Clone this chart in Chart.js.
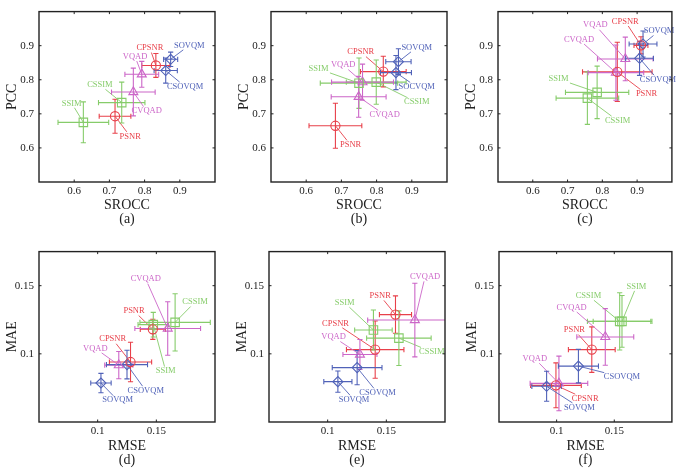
<!DOCTYPE html>
<html>
<head>
<meta charset="utf-8">
<script src="https://cdn.jsdelivr.net/npm/chart.js@4.4.0/dist/chart.umd.min.js"></script>
<style>
html, body { margin: 0; padding: 0; background: #fff; }
#wrap { position: relative; width: 679px; height: 468px; overflow: hidden; }
#wrap canvas { position: absolute; display: block; }
</style>
</head>
<body>
<div id="wrap"></div>
<script>
// metric order used by every panel
const metrics = ['PSNR', 'CPSNR', 'SSIM', 'CSSIM', 'VQAD', 'CVQAD', 'SOVQM', 'CSOVQM'];
// panel (b) prints the last one as "SOCVQM"
const metricsB = ['PSNR', 'CPSNR', 'SSIM', 'CSSIM', 'VQAD', 'CVQAD', 'SOVQM', 'SOCVQM'];

const corrTicks = [0.6, 0.7, 0.8, 0.9];
const corrTickLabels = ['0.6', '0.7', '0.8', '0.9'];
const errTicks = [0.1, 0.15];
const errTickLabels = ['0.1', '0.15'];

// (a) SROCC / PCC
const a_x  = [0.716, 0.832, 0.626, 0.735, 0.792, 0.768, 0.874, 0.860];
const a_y  = [0.693, 0.842, 0.675, 0.733, 0.816, 0.764, 0.860, 0.827];
const a_xe = [0.045, 0.040, 0.072, 0.066, 0.048, 0.062, 0.020, 0.033];
const a_ye = [0.050, 0.035, 0.060, 0.060, 0.038, 0.070, 0.021, 0.037];

// (b) SROCC / PCC
const b_x  = [0.683, 0.819, 0.750, 0.799, 0.760, 0.749, 0.862, 0.855];
const b_y  = [0.665, 0.824, 0.790, 0.793, 0.793, 0.750, 0.853, 0.821];
const b_xe = [0.075, 0.065, 0.110, 0.085, 0.088, 0.078, 0.036, 0.044];
const b_ye = [0.066, 0.045, 0.074, 0.065, 0.053, 0.060, 0.038, 0.050];

// (c) SROCC / PCC
const c_x  = [0.843, 0.911, 0.785, 0.757, 0.866, 0.839, 0.917, 0.907];
const c_y  = [0.823, 0.901, 0.763, 0.746, 0.861, 0.821, 0.905, 0.863];
const c_xe = [0.100, 0.020, 0.091, 0.090, 0.080, 0.080, 0.040, 0.040];
const c_ye = [0.087, 0.025, 0.077, 0.077, 0.064, 0.081, 0.038, 0.050];

// (d) RMSE / MAE
const d_x  = [0.147, 0.128, 0.1474, 0.166, 0.118, 0.1597, 0.1028, 0.125];
const d_y  = [0.118, 0.094, 0.1214, 0.1231, 0.0917, 0.1186, 0.0786, 0.0921];
const d_xe = [0.0107, 0.018, 0.013, 0.030, 0.012, 0.028, 0.0087, 0.0175];
const d_ye = [0.0074, 0.0145, 0.009, 0.021, 0.010, 0.0196, 0.0071, 0.0105];

// (e) RMSE / MAE
const e_x  = [0.1578, 0.1405, 0.139, 0.1607, 0.1275, 0.1743, 0.1087, 0.1251];
const e_y  = [0.1288, 0.1031, 0.1175, 0.1115, 0.0995, 0.1248, 0.0796, 0.0899];
const e_xe = [0.0137, 0.0245, 0.016, 0.0275, 0.0145, 0.0402, 0.012, 0.0212];
const e_ye = [0.0137, 0.021, 0.0147, 0.020, 0.011, 0.027, 0.0078, 0.0126];

// (f) RMSE / MAE
const f_x  = [0.1305, 0.0994, 0.1567, 0.1547, 0.102, 0.1422, 0.0913, 0.1189];
const f_y  = [0.1031, 0.0769, 0.1238, 0.1238, 0.0783, 0.1124, 0.0762, 0.0910];
const f_xe = [0.0203, 0.022, 0.025, 0.028, 0.025, 0.0247, 0.0128, 0.0174];
const f_ye = [0.0167, 0.0165, 0.019, 0.021, 0.020, 0.0208, 0.011, 0.0123];

// where each name label sits (axis units), kept apart from the values
const a_labelPos = [[0.759, 0.634], [0.815, 0.893], [0.593, 0.731], [0.673, 0.785], [0.773, 0.868], [0.806, 0.708], [0.927, 0.901], [0.915, 0.780]];
const b_labelPos = [[0.726, 0.609], [0.755, 0.881], [0.635, 0.832], [0.914, 0.734], [0.705, 0.843], [0.823, 0.697], [0.914, 0.895], [0.914, 0.779]];
const c_labelPos = [[0.927, 0.758], [0.866, 0.971], [0.674, 0.802], [0.844, 0.680], [0.780, 0.960], [0.733, 0.918], [0.963, 0.943], [0.960, 0.800]];
const d_labelPos = [[0.131, 0.1314], [0.1128, 0.1107], [0.158, 0.0874], [0.183, 0.138], [0.098, 0.104], [0.141, 0.1548], [0.117, 0.066], [0.141, 0.073]];
const e_labelPos = [[0.1448, 0.1425], [0.1067, 0.1224], [0.1145, 0.1375], [0.1887, 0.1014], [0.105, 0.1123], [0.183, 0.1565], [0.1225, 0.0663], [0.1425, 0.0714]];
const f_labelPos = [[0.1154, 0.1174], [0.1247, 0.0671], [0.1692, 0.1495], [0.1276, 0.1426], [0.0811, 0.0964], [0.113, 0.134], [0.1198, 0.0607], [0.1567, 0.0829]];

// styling
const RED = '#e8404a', GREEN = '#86cc6a', MAGENTA = '#cc66c8', BLUE = '#5062b8';
const colors = [RED, RED, GREEN, GREEN, MAGENTA, MAGENTA, BLUE, BLUE];
const shapes = ['circle', 'circle', 'rect', 'rect', 'triangle', 'triangle', 'rectRot', 'rectRot'];
const radii = [4.6, 4.6, 6, 6, 5.2, 5.2, 5, 5];
const SERIF = '"Liberation Serif", "DejaVu Serif", serif';
const INK = '#222';

const errorBarPlugin = {
  id: 'errbars',
  beforeDatasetsDraw(chart) {
    const { ctx, chartArea: a, scales: { x, y } } = chart;
    ctx.save();
    ctx.beginPath();
    ctx.rect(a.left, a.top, a.width, a.height);
    ctx.clip();
    const cap = 2.6;
    ctx.font = '8.5px ' + SERIF;
    chart.data.datasets.forEach(ds => {
      const p = ds.data[0];
      const px = x.getPixelForValue(p.x), py = y.getPixelForValue(p.y);
      const x0 = x.getPixelForValue(p.x - ds.xErr), x1 = x.getPixelForValue(p.x + ds.xErr);
      const y0 = y.getPixelForValue(p.y - ds.yErr), y1 = y.getPixelForValue(p.y + ds.yErr);
      ctx.strokeStyle = ds.borderColor;
      ctx.lineWidth = 1.1;
      ctx.beginPath();
      ctx.moveTo(x0, py); ctx.lineTo(x1, py);
      ctx.moveTo(x0, py - cap); ctx.lineTo(x0, py + cap);
      ctx.moveTo(x1, py - cap); ctx.lineTo(x1, py + cap);
      ctx.moveTo(px, y0); ctx.lineTo(px, y1);
      ctx.moveTo(px - cap, y0); ctx.lineTo(px + cap, y0);
      ctx.moveTo(px - cap, y1); ctx.lineTo(px + cap, y1);
      ctx.stroke();

      // leader line from the name to its point
      const lx = x.getPixelForValue(ds.labelAt[0]), ly = y.getPixelForValue(ds.labelAt[1]);
      const hw = ctx.measureText(ds.label).width / 2 + 1.5, hh = 4.5;
      const dx = px - lx, dy = py - ly;
      const t = Math.min(dx ? hw / Math.abs(dx) : Infinity, dy ? hh / Math.abs(dy) : Infinity);
      ctx.lineWidth = 0.9;
      ctx.beginPath();
      ctx.moveTo(lx + dx * t, ly + dy * t);
      ctx.lineTo(px, py);
      ctx.stroke();
    });
    ctx.restore();
  },
  afterDatasetsDraw(chart) {
    const { ctx, chartArea: a, scales: { x, y } } = chart;
    ctx.save();
    ctx.font = '8.5px ' + SERIF;
    ctx.textAlign = 'center';
    ctx.textBaseline = 'middle';
    chart.data.datasets.forEach(ds => {
      ctx.fillStyle = ds.borderColor;
      ctx.fillText(ds.label, x.getPixelForValue(ds.labelAt[0]), y.getPixelForValue(ds.labelAt[1]));
    });
    // frame and inward ticks
    ctx.strokeStyle = INK;
    ctx.lineWidth = 1;
    ctx.beginPath();
    x.ticks.forEach(t => {
      const v = x.getPixelForValue(t.value);
      ctx.moveTo(v, a.bottom); ctx.lineTo(v, a.bottom - 2.5);
      ctx.moveTo(v, a.top); ctx.lineTo(v, a.top + 2.5);
    });
    y.ticks.forEach(t => {
      const v = y.getPixelForValue(t.value);
      ctx.moveTo(a.left, v); ctx.lineTo(a.left + 2.5, v);
      ctx.moveTo(a.right, v); ctx.lineTo(a.right - 2.5, v);
    });
    ctx.stroke();
    ctx.lineWidth = 1.4;
    ctx.strokeRect(a.left, a.top, a.width, a.height);
    ctx.restore();
  }
};

function makePanel(p) {
  const canvas = document.createElement('canvas');
  const left = p.boxLeft - 39, top = p.boxTop - 5;
  const width = Math.min(226, 679 - left);
  const height = 5 + 177 + p.axisH;
  canvas.width = width;
  canvas.height = height;
  canvas.style.left = left + 'px';
  canvas.style.top = top + 'px';
  canvas.style.width = width + 'px';
  canvas.style.height = height + 'px';
  document.getElementById('wrap').appendChild(canvas);

  const datasets = p.names.map((name, i) => ({
    label: name,
    data: [{ x: p.xs[i], y: p.ys[i] }],
    xErr: p.xe[i],
    yErr: p.ye[i],
    labelAt: p.labelPos[i],
    pointStyle: shapes[i],
    pointRadius: radii[i],
    borderColor: colors[i],
    backgroundColor: 'rgba(0,0,0,0)',
    borderWidth: 1.1
  }));

  const tickFont = { family: SERIF, size: 11 };
  const titleFont = { family: SERIF, size: 14, lineHeight: '14px' };

  new Chart(canvas.getContext('2d'), {
    type: 'scatter',
    data: { datasets },
    options: {
      responsive: false,
      animation: false,
      devicePixelRatio: 1,
      layout: { padding: { left: 0, top: 5, right: width - 39 - 176, bottom: 0 } },
      plugins: { legend: { display: false }, tooltip: { enabled: false } },
      scales: {
        x: {
          type: 'linear',
          min: p.xMin, max: p.xMax,
          afterFit(s) { s.height = p.axisH; },
          afterBuildTicks(s) { s.ticks = p.ticks.map(v => ({ value: v })); },
          ticks: {
            callback: v => p.tickLabels[p.ticks.indexOf(v)],
            font: tickFont, color: INK, padding: 3, maxRotation: 0
          },
          grid: { display: false, drawTicks: false },
          border: { display: false },
          title: { display: true, text: [p.xTitle, p.caption], font: titleFont, color: INK, padding: { top: 0, bottom: p.capPad } }
        },
        y: {
          type: 'linear',
          min: p.yMin, max: p.yMax,
          afterFit(s) { s.width = 39; },
          afterBuildTicks(s) { s.ticks = p.ticks.map(v => ({ value: v })); },
          ticks: {
            callback: v => p.tickLabels[p.ticks.indexOf(v)],
            font: tickFont, color: INK, padding: 5
          },
          grid: { display: false, drawTicks: false },
          border: { display: false },
          title: { display: true, text: p.yTitle, font: titleFont, color: INK, padding: { top: 5, bottom: 0 } }
        }
      }
    },
    plugins: [errorBarPlugin]
  });
}

const corrAxes = { xMin: 0.5, xMax: 1.0, yMin: 0.5, yMax: 1.0, ticks: corrTicks, tickLabels: corrTickLabels, xTitle: 'SROCC', yTitle: 'PCC', boxTop: 5, axisH: 50, capPad: 6 };
const errAxes = { xMin: 0.05, xMax: 0.2, yMin: 0.05, yMax: 0.175, ticks: errTicks, tickLabels: errTickLabels, xTitle: 'RMSE', yTitle: 'MAE', boxTop: 245, axisH: 46, capPad: 1 };

makePanel({ ...corrAxes, boxLeft: 39,  caption: '(a)', names: metrics,  xs: a_x, ys: a_y, xe: a_xe, ye: a_ye, labelPos: a_labelPos });
makePanel({ ...corrAxes, boxLeft: 271, caption: '(b)', names: metricsB, xs: b_x, ys: b_y, xe: b_xe, ye: b_ye, labelPos: b_labelPos });
makePanel({ ...corrAxes, boxLeft: 498, caption: '(c)', names: metrics,  xs: c_x, ys: c_y, xe: c_xe, ye: c_ye, labelPos: c_labelPos });
makePanel({ ...errAxes,  boxLeft: 39,  caption: '(d)', names: metrics,  xs: d_x, ys: d_y, xe: d_xe, ye: d_ye, labelPos: d_labelPos });
makePanel({ ...errAxes,  boxLeft: 269, caption: '(e)', names: metrics,  xs: e_x, ys: e_y, xe: e_xe, ye: e_ye, labelPos: e_labelPos });
makePanel({ ...errAxes,  boxLeft: 499, caption: '(f)', names: metrics,  xs: f_x, ys: f_y, xe: f_xe, ye: f_ye, labelPos: f_labelPos });
</script>
</body>
</html>
